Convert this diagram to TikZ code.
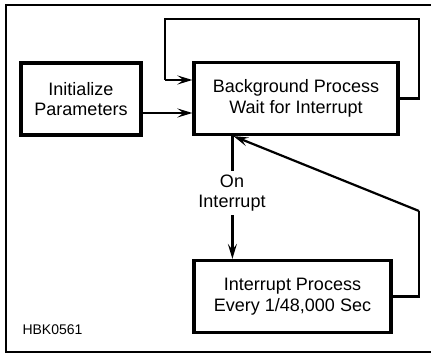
\documentclass[tikz,border=0pt]{standalone}
\usepackage{fontspec}
\setmainfont{Liberation Sans}
\usetikzlibrary{arrows.meta, positioning, calc}

\begin{document}
\begin{tikzpicture}[
  x=1pt, y=1pt,
  procbox/.style={rectangle, draw, line width=3.2pt, minimum width=#1, minimum height=72pt, align=center, font=\fontsize{18}{20.5}\selectfont, inner sep=0pt},
  conn/.style={line width=2.2pt, -{Stealth[length=15pt, width=9pt, inset=6pt]}},
  flow/.style={line width=2.2pt}
]
  \useasboundingbox (0,0) rectangle (431,358);
  \draw[line width=2.8pt] (438,353) -- (6,353) -- (6,6) -- (438,6);

  \node[procbox=120pt] (init) at (81,259) {Initialize\\Parameters};
  \node[procbox=204pt] (bg) at (296,259.5) {Background Process\\Wait for Interrupt};
  \node[procbox=197pt] (intr) at (292.5,61.5) {Interrupt Process\\Every 1/48,000 Sec};
  \node[font=\fontsize{14}{16}\selectfont, anchor=west] (code) at (19,28) {HBK0561};

  \coordinate (looptop) at (419,339);
  \coordinate (loopin) at (165,278);
  \coordinate (retup) at (419,147);

  % loop back into the background process
  \draw[flow, line join=miter] (bg.east) -| (looptop) -| (loopin);
  \draw[conn] (loopin) -- (loopin -| bg.west);
  \draw[conn] (init.east |- 0,245) -- (bg.west |- 0,245);

  % interrupt in and out
  \draw[conn] ([xshift=40pt]bg.south west) -- ([xshift=40pt]bg.south west |- intr.north);
  \node[fill=white, align=center, inner sep=4pt, font=\fontsize{18}{20.5}\selectfont] (oni) at (232,165) {On\\Interrupt};
  \draw[flow, line join=miter] (intr.east) -| (retup);
  \draw[conn] (retup) -- ([xshift=41pt]bg.south west);
\end{tikzpicture}
\end{document}
